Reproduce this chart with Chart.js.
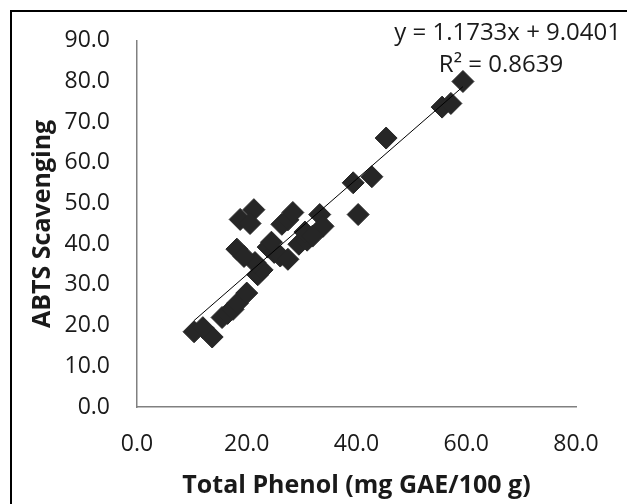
<!DOCTYPE html>
<html>
<head>
<meta charset="utf-8">
<script src="https://cdn.jsdelivr.net/npm/chart.js@4"></script>
<style>
  html, body { margin: 0; padding: 0; background: #fff; overflow: hidden; }
  #wrap { width: 627px; height: 504px; position: relative; }
</style>
</head>
<body>
<div id="wrap"><canvas id="chart" width="627" height="504"></canvas></div>
<script>
// total phenol (x) and ABTS scavenging (y)
const phenol = [10.4, 13.7, 12.0, 15.5, 16.5, 17.5, 18.3, 20.0, 22.0, 22.8, 21.5, 18.2, 19.5,
                23.9, 25.0, 26.1, 27.5, 29.5, 31.0, 30.6, 26.4, 27.5, 28.4, 33.3, 33.9, 21.3,
                18.8, 20.6, 40.3, 39.4, 42.8, 45.4, 55.6, 57.2, 59.4, 24.5, 32.0];
const abts   = [18.5, 17.2, 19.5, 22.0, 23.0, 24.0, 25.5, 28.0, 32.5, 33.7, 35.5, 38.8, 37.0,
                39.3, 38.0, 37.1, 36.3, 40.0, 41.0, 43.0, 44.9, 46.0, 47.8, 47.3, 44.4, 48.5,
                46.1, 45.1, 47.3, 55.1, 56.6, 66.1, 73.7, 74.6, 80.0, 40.5, 42.0];

// trend line from the equation on the chart
const slope = 1.1733;
const intercept = 9.0401;
const eqText = 'y = 1.1733x + 9.0401';
const r2Text = 'R\u00B2 = 0.8639';

const xTicks = [0, 20, 40, 60, 80];
const yTicks = [0, 10, 20, 30, 40, 50, 60, 70, 80, 90];

const points = phenol.map((x, i) => ({ x: x, y: abts[i] }));
const xMin = Math.min(...phenol), xMax = Math.max(...phenol);
const trend = [
    { x: xMin, y: slope * xMin + intercept },
    { x: xMax, y: slope * xMax + intercept }
];

const fontFam = '"Open Sans", sans-serif';

// frame + equation text
const extras = {
    id: 'extras',
    afterDraw(chart) {
        const c = chart.ctx;
        c.save();
        c.strokeStyle = '#000';
        c.lineWidth = 2;
        c.beginPath();
        c.moveTo(11, 504);
        c.lineTo(11, 11);
        c.lineTo(627, 11);
        c.stroke();
        c.fillStyle = '#1a1a1a';
        c.font = '24px ' + fontFam;
        c.textBaseline = 'middle';
        c.textAlign = 'right';
        c.fillText(eqText, 621, 33);
        c.textAlign = 'center';
        c.fillText(r2Text, 501, 65);
        c.restore();
    }
};

new Chart(document.getElementById('chart'), {
    type: 'scatter',
    data: {
        datasets: [{
            label: 'data',
            data: points,
            pointStyle: 'rectRot',
            pointRadius: 11,
            pointBackgroundColor: '#262626',
            pointBorderColor: '#262626',
            pointBorderWidth: 1,
            order: 2
        }, {
            type: 'line',
            label: 'trend',
            data: trend,
            borderColor: '#000',
            borderWidth: 1,
            pointRadius: 0,
            fill: false,
            order: 1
        }]
    },
    options: {
        responsive: false,
        animation: false,
        layout: { padding: { left: 0, top: 38, right: 51, bottom: 0 } },
        plugins: { legend: { display: false }, tooltip: { enabled: false } },
        scales: {
            x: {
                type: 'linear',
                min: 0, max: 80,
                afterBuildTicks: s => { s.ticks = xTicks.map(v => ({ value: v })); },
                afterFit: s => { s.height = 97; },
                grid: { display: false, drawTicks: false },
                border: { display: true, color: '#808080', width: 1.5 },
                ticks: {
                    padding: 24,
                    color: '#1a1a1a',
                    font: { family: fontFam, size: 23 },
                    callback: v => v.toFixed(1)
                },
                title: {
                    display: true,
                    text: 'Total Phenol (mg GAE/100 g)',
                    color: '#1a1a1a',
                    font: { family: fontFam, size: 25, weight: 'bold' },
                    padding: { bottom: 3 }
                }
            },
            y: {
                type: 'linear',
                min: 0, max: 90,
                afterBuildTicks: s => { s.ticks = yTicks.map(v => ({ value: v })); },
                afterFit: s => { s.width = 137; },
                grid: { display: false, drawTicks: false },
                border: { display: true, color: '#808080', width: 1.5 },
                ticks: {
                    padding: 27,
                    color: '#1a1a1a',
                    font: { family: fontFam, size: 23 },
                    callback: v => v.toFixed(1)
                },
                title: {
                    display: true,
                    text: 'ABTS Scavenging',
                    color: '#1a1a1a',
                    font: { family: fontFam, size: 25, weight: 'bold' },
                    padding: { top: 28 }
                }
            }
        }
    },
    plugins: [extras]
});
</script>
</body>
</html>
